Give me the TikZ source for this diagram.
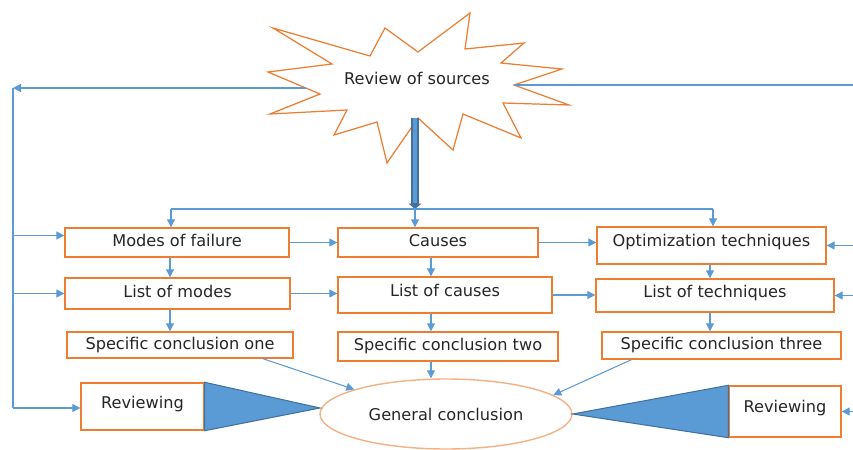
\documentclass[tikz,border=0pt]{standalone}
\usepackage{fontspec}
\setmainfont{DejaVu Sans}
\usetikzlibrary{shapes.geometric, arrows.meta, positioning, calc}
\definecolor{linkblue}{HTML}{5B9BD5}
\definecolor{darkblue}{HTML}{41719C}
\definecolor{boxorange}{HTML}{ED7D31}
\definecolor{paleorange}{HTML}{F4B183}
\definecolor{inkgray}{HTML}{262626}

\begin{document}
\begin{tikzpicture}[x=0.02cm, y=-0.02cm, font=\fontsize{9.2}{11}\selectfont, text=inkgray,
    box/.style={draw=boxorange, line width=0.8pt, fill=white, inner sep=0pt, text height=7pt, text depth=2pt},
    liftup/.style={text depth=#1},
    flow/.style={linkblue, line width=0.6pt, -{Triangle[length=4.5pt, width=4.5pt]}},
    link/.style={linkblue, line width=0.6pt}]
    \useasboundingbox (0,0) rectangle (853,450);

    % source burst
    \draw[boxorange, line width=0.7pt, fill=white] (273,28) -- (370,56) -- (385,28) -- (418,52) -- (470,13) -- (465,49)
        -- (524,43) -- (501,63) -- (562,69) -- (514,85) -- (569,105) -- (503,103) -- (521,138) -- (463,114)
        -- (453,150) -- (418,118) -- (387,163) -- (377,122) -- (334,135) -- (347,110) -- (270,114) -- (320,94)
        -- (268,72) -- (332,64) -- cycle;
    \node (src) at (417,78) {Review of sources};
    \coordinate (srcL) at (306,88);
    \coordinate (srcR) at (514,85);
    \coordinate (srcB) at (415,118);

    % feedback rails and split line
    \coordinate (fbtop) at (13,88);
    \coordinate (fbbot) at (13,408);
    \coordinate (fbR) at (853,86);
    \coordinate (sp1) at (171,209);
    \coordinate (sp2) at (415,209);
    \coordinate (sp3) at (713,209);
    \coordinate (colA) at (170,0);
    \coordinate (colB) at (431,0);
    \coordinate (colC) at (710,0);

    % boxes
    \node[box, minimum width=4.48cm, minimum height=0.58cm] (mof) at (177,242.5) {Modes of failure};
    \node[box, minimum width=4.0cm, minimum height=0.58cm] (cau) at (438,242.5) {Causes};
    \node[box, liftup=6pt, minimum width=4.58cm, minimum height=0.74cm] (opt) at (711.5,245.5) {Optimization techniques};
    \node[box, minimum width=4.5cm, minimum height=0.62cm] (lom) at (177.5,293.5) {List of modes};
    \node[box, liftup=5pt, minimum width=4.28cm, minimum height=0.72cm] (loc) at (445,295) {List of causes};
    \node[box, liftup=4.5pt, minimum width=4.76cm, minimum height=0.66cm] (lot) at (715,295.5) {List of techniques};
    \node[box, minimum width=4.52cm, minimum height=0.52cm] (sc1) at (180,345) {Specific conclusion one};
    \node[box, minimum width=4.4cm, minimum height=0.58cm] (sc2) at (448,346.5) {Specific conclusion two};
    \node[box, minimum width=4.78cm, minimum height=0.54cm] (sc3) at (721.5,345.5) {Specific conclusion three};
    \node[box, liftup=4.5pt, minimum width=2.46cm, minimum height=0.94cm] (rvl) at (142.5,406.5) {Reviewing};
    \node[box, liftup=6pt, minimum width=2.24cm, minimum height=1.02cm] (rvr) at (785,411.5) {Reviewing};
    \node[ellipse, draw=paleorange, line width=0.8pt, inner sep=0pt, minimum width=5.04cm, minimum height=1.4cm] (gen) at (446,414) {General conclusion};
    \coordinate (mofin) at ([yshift=4pt]mof.west);

    % wedges
    \draw[darkblue, fill=linkblue, line width=0.6pt] (rvl.north east) -- (rvl.south east) -- (320,408) -- cycle;
    \draw[darkblue, fill=linkblue, line width=0.6pt] (rvr.north west) -- (rvr.south west) -- (gen.east) -- cycle;

    % main feed
    \draw[darkblue, line width=4.2pt, -{Triangle[length=3pt, width=7pt]}] (srcB) -- (sp2);
    \draw[linkblue, line width=2.6pt, shorten >=3.5pt] (srcB) -- (sp2);
    \draw[link] (sp1) -- (sp3);
    \draw[flow] (sp1) -- (sp1 |- mof.north);
    \draw[flow] (sp2) -- (sp2 |- cau.north);
    \draw[flow] (sp3) -- (sp3 |- opt.north);

    % left loop
    \draw[flow] (srcL) -- (fbtop);
    \draw[link] (fbtop) -- (fbbot);
    \draw[flow] (fbtop |- mofin) -- (mofin);
    \draw[flow] (fbtop |- lom.west) -- (lom.west);
    \draw[flow] (fbbot) -- (fbbot -| rvl.west);

    % right loop
    \draw[link] (srcR) -- (srcR -| fbR);
    \draw[flow] (fbR |- opt.east) -- (opt.east);
    \draw[flow] (fbR |- lot.east) -- (lot.east);
    \draw[flow] (fbR |- rvr.east) -- (rvr.east);

    % across
    \draw[flow] (mof.east) -- (cau.west);
    \draw[flow] (cau.east) -- (cau.east -| opt.west);
    \draw[flow] (lom.east) -- (lom.east -| loc.west);
    \draw[flow] (loc.east) -- (loc.east -| lot.west);

    % down
    \draw[flow] (colA |- mof.south) -- (colA |- lom.north);
    \draw[flow] (colA |- lom.south) -- (colA |- sc1.north);
    \draw[flow] (colB |- cau.south) -- (colB |- loc.north);
    \draw[flow] (colB |- loc.south) -- (colB |- sc2.north);
    \draw[flow] (colC |- opt.south) -- (colC |- lot.north);
    \draw[flow] (colC |- lot.south) -- (colC |- sc3.north);

    % to general conclusion
    \draw[flow] ($(sc1.south)!0.73!(sc1.south east)$) -- (gen.165);
    \draw[flow] (colB |- sc2.south) -- (colB |- gen.north);
    \draw[flow] ($(sc3.south west)!0.25!(sc3.south)$) -- (gen.10);
\end{tikzpicture}
\end{document}
